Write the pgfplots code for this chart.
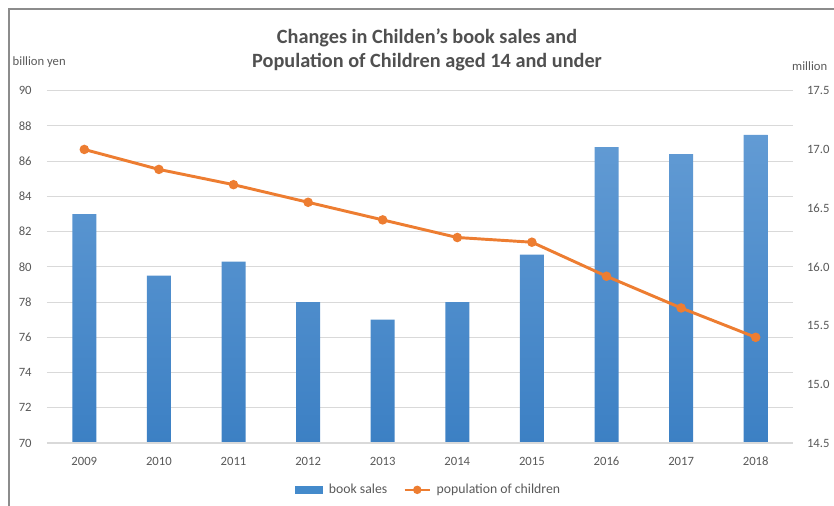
\documentclass[border=0pt]{standalone}
\usepackage{pgfplots}
\pgfplotsset{compat=1.18}
\usepackage{fontspec}
\setmainfont{Carlito}
\definecolor{barblue}{RGB}{68,138,203}
\definecolor{bartop}{RGB}{98,155,212}
\definecolor{barbot}{RGB}{60,128,196}
\definecolor{lineor}{RGB}{237,125,49}
\definecolor{txtgray}{RGB}{89,89,89}
\definecolor{gridgray}{RGB}{217,217,217}
\begin{document}
\begin{tikzpicture}[x=0.75pt,y=0.75pt]
\useasboundingbox (0,0) rectangle (834,506);
\draw[color={rgb,255:red,140;green,140;blue,140}, line width=1.1pt] (9,0) -- (9,497) -- (834,497);
\begin{axis}[
  at={(35.25pt,47.25pt)}, anchor=south west,
  scale only axis, width=559.5pt, height=264.2pt,
  xmin=-0.5, xmax=9.5, ymin=70, ymax=90,
  ytick={70,72,...,90},
  xtick={0,...,9},
  xticklabels={2009,2010,2011,2012,2013,2014,2015,2016,2017,2018},
  axis line style={draw=none},
  axis x line*=bottom, axis y line*=left,
  major tick length=0pt,
  ymajorgrids, grid style={gridgray, line width=0.8pt},
  tick label style={font=\fontsize{9.5}{10}\selectfont, text=txtgray},
  yticklabel style={xshift=-8pt},
  xticklabel style={yshift=-7pt},
  /pgf/number format/assume math mode=true,
]
\addplot[ybar, bar width=18pt, draw=none, top color=bartop, bottom color=barbot] coordinates {
(0,83.0) (1,79.5) (2,80.3) (3,78.0) (4,77.0) (5,78.0) (6,80.7) (7,86.8) (8,86.4) (9,87.5)};
\draw[gridgray, line width=0.8pt] (axis cs:-0.5,70) -- (axis cs:9.5,70);
\end{axis}
\begin{axis}[
  at={(35.25pt,47.25pt)}, anchor=south west,
  scale only axis, width=559.5pt, height=264.2pt,
  xmin=-0.5, xmax=9.5, ymin=14.5, ymax=17.5,
  ytick={14.5,15,...,17.5},
  xtick=\empty,
  axis line style={draw=none},
  axis y line*=right, axis x line=none,
  major tick length=0pt,
  tick label style={font=\fontsize{9.5}{10}\selectfont, text=txtgray},
  yticklabel style={xshift=7pt, /pgf/number format/.cd, fixed, fixed zerofill, precision=1},
  /pgf/number format/assume math mode=true,
  legend columns=2,
  legend style={at={(0.512,-0.133)}, anchor=center, draw=none, fill=none,
    font=\fontsize{10.3}{11}\selectfont, text=txtgray,
    /tikz/every even column/.append style={column sep=10pt}},
]
\addlegendimage{legend image code/.code={\fill[barblue] (0pt,-2.5pt) rectangle (20pt,2.5pt); \path (23pt,0pt);}}
\addlegendentry{book sales}
\addplot[lineor, line width=2.2pt, mark=*, mark size=2.4pt, mark options={fill=lineor, draw=lineor},
  legend image code/.code={\draw[lineor, line width=2pt] (0pt,0pt) -- (19pt,0pt); \fill[lineor] (9.5pt,0pt) circle (2pt); \path (21pt,0pt);}]
 coordinates {
(0,17.00) (1,16.83) (2,16.70) (3,16.55) (4,16.40) (5,16.25) (6,16.21) (7,15.92) (8,15.65) (9,15.40)};
\addlegendentry{population of children}
\end{axis}
\node[anchor=west, text=txtgray, font=\fontsize{9.5}{10}\selectfont] at (8,444) {billion yen};
\node[anchor=east, text=txtgray, font=\fontsize{9.5}{10}\selectfont] at (832,440) {million};
\node[text={rgb,255:red,80;green,80;blue,80}, font=\bfseries\fontsize{15.2}{16}\selectfont] at (427,468) {Changes in Childen's book sales and};
\node[text={rgb,255:red,80;green,80;blue,80}, font=\bfseries\fontsize{15.2}{16}\selectfont] at (427,444) {Population of Children aged 14 and under};
\end{tikzpicture}
\end{document}
